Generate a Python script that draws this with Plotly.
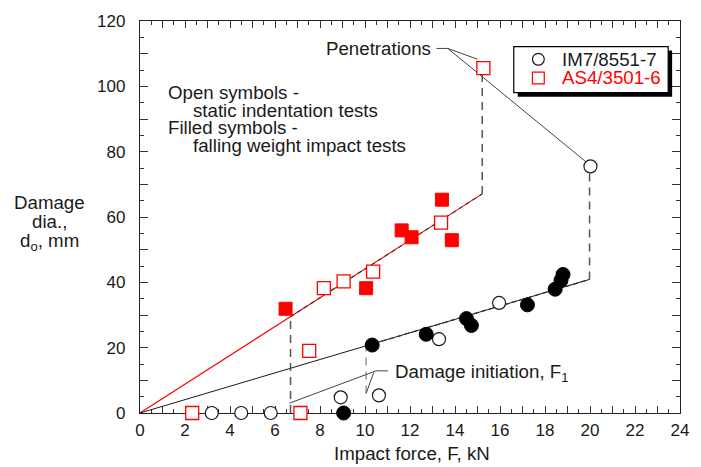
import plotly.graph_objects as go

# ---- Measured damage diameters (mm) vs. impact / indentation force (kN) ----
# IM7/8551-7
im7_static_F = [3.19, 4.50, 5.81, 8.92, 10.62, 13.29, 15.96, 20.02]
im7_static_d = [0.0, 0.0, 0.0, 4.8, 5.4, 22.6, 33.7, 75.5]
im7_impact_F = [9.05, 10.32, 12.72, 14.51, 14.73, 17.22, 18.45, 18.71, 18.80]
im7_impact_d = [0.0, 20.8, 24.1, 28.9, 26.8, 33.1, 37.9, 40.6, 42.4]

# AS4/3501-6
as4_static_F = [2.32, 7.13, 7.52, 8.17, 9.05, 10.36, 13.38, 15.26]
as4_static_d = [0.0, 0.0, 19.0, 38.2, 40.3, 43.3, 58.3, 105.6]
as4_impact_F = [6.47, 10.05, 11.63, 12.07, 13.42, 13.86]
as4_impact_d = [31.9, 38.2, 55.9, 53.8, 65.3, 52.9]

# Linear fits through the origin: slope (mm/kN) and end force (kN)
im7_slope, im7_fit_end = 2.047, 19.98
as4_slope, as4_fit_end = 4.41, 15.21

# Damage initiation force F1 and where its marker sits
im7_F1, im7_F1_d = 10.05, 6.0
as4_F1, as4_F1_d = 6.69, 3.0

# Penetration values
im7_pen_d = 75.5
as4_pen_d = 105.6

x_ticks = list(range(0, 25))
x_ticktext = [str(v) if v % 2 == 0 else "" for v in x_ticks]
y_ticks = list(range(0, 121, 10))
y_ticktext = [str(v) if v % 20 == 0 else "" for v in y_ticks]

RED = "#ff0000"
INK = "#1a1a1a"
DASH_GREY = "#555555"
FONT = "Liberation Sans, Arial, sans-serif"
TXT = 18.7

# plot-area geometry in pixels (used to place text in paper coordinates)
FIG_W, FIG_H = 701, 467
PL, PR, PT, PB = 140, 689, 14, 413


def px(x):
    return (x - PL) / (PR - PL)


def py(y):
    return (PB - y) / (PB - PT)


fig = go.Figure()


def line(xs, ys, color, width=1.0, dash="solid"):
    fig.add_trace(go.Scatter(x=xs, y=ys, mode="lines",
                             line=dict(color=color, width=width, dash=dash),
                             showlegend=False, hoverinfo="skip",
                             cliponaxis=False))


# fit lines
line([0, as4_fit_end], [0, as4_slope * as4_fit_end], RED, 1.1)
line([0, im7_fit_end], [0, im7_slope * im7_fit_end], INK, 1.0)
# dashed overlay beyond damage initiation
line([as4_F1, as4_fit_end], [as4_slope * as4_F1, as4_slope * as4_fit_end],
     "#333333", 1.1, "4px,4px")
line([im7_F1, im7_fit_end], [im7_slope * im7_F1, im7_slope * im7_fit_end],
     "#333333", 1.3, "5px,3px")

# vertical dashed connectors
VD = "8px,6px"
line([as4_F1, as4_F1], [0, as4_slope * as4_F1], DASH_GREY, 1.5, VD)
line([im7_F1, im7_F1], [im7_F1_d, im7_slope * im7_F1], "#888888", 1.3, VD)
line([as4_fit_end, as4_fit_end], [as4_slope * as4_fit_end, as4_pen_d],
     DASH_GREY, 1.5, VD)
line([im7_fit_end, im7_fit_end], [im7_slope * im7_fit_end, im7_pen_d],
     DASH_GREY, 1.5, VD)

# callout leader lines
pen_x, pen_y = 13.68, 111.6
line([12.98 + 0.2, pen_x], [pen_y, pen_y], "#444444", 1.0)
line([pen_x, 15.0], [pen_y, 108.3], "#444444", 1.0)
line([pen_x, 19.8], [pen_y, 77.0], "#444444", 1.0)

ini_x, ini_y = 10.49, 12.9
line([ini_x, 11.02], [ini_y, ini_y], "#444444", 1.0)
line([ini_x, as4_F1 - 0.05], [ini_y, as4_F1_d], "#444444", 1.0)
line([ini_x - 0.1, im7_F1], [ini_y - 0.5, im7_F1_d], "#444444", 1.0)


def markers(xs, ys, symbol, fill, edge, size, lw):
    fig.add_trace(go.Scatter(x=xs, y=ys, mode="markers",
                             marker=dict(symbol=symbol, color=fill, size=size,
                                         line=dict(color=edge, width=lw)),
                             showlegend=False, cliponaxis=False))


markers(as4_static_F, as4_static_d, "square", "white", RED, 13, 1.3)
markers(as4_impact_F, as4_impact_d, "square", RED, RED, 13, 1.0)
markers(im7_static_F, im7_static_d, "circle", "white", INK, 13, 1.2)
markers(im7_impact_F, im7_impact_d, "circle", "black", "black", 14, 1.0)

annotations = []


def text(s, x, y, anchor="left", color=INK, size=TXT):
    annotations.append(dict(text=s, x=px(x), y=py(y), xref="paper",
                            yref="paper", xanchor=anchor, yanchor="middle",
                            showarrow=False, borderpad=0,
                            font=dict(family=FONT, size=size, color=color)))


text("Penetrations", 437, 42, "right")
text("Open symbols -", 167, 87)
text("static indentation tests", 193, 105)
text("Filled symbols -", 167, 122)
text("falling weight impact tests", 193, 141)
text("Damage initiation, F<sub>1</sub>", 398, 372)

# axis titles
text("Damage", 48, 199, "center")
text("dia.,", 48, 218, "center")
text("d<sub>o</sub>, mm", 48, 239, "center")
text("Impact force, F, kN", 417, 454, "center")

# legend box
text("IM7/8551-7", 568, 53)
text("AS4/3501-6", 568, 72, color=RED)

shapes = [
    dict(type="rect", xref="paper", yref="paper", x0=px(524), x1=px(681),
         y0=py(91), y1=py(44), fillcolor="black", line=dict(width=0)),
    dict(type="rect", xref="paper", yref="paper", x0=px(520), x1=px(677),
         y0=py(87), y1=py(40), fillcolor="white",
         line=dict(color="black", width=1.2)),
    dict(type="circle", xref="paper", yref="paper", x0=px(539), x1=px(551),
         y0=py(59), y1=py(47), fillcolor="white",
         line=dict(color=INK, width=1.2)),
    dict(type="rect", xref="paper", yref="paper", x0=px(539), x1=px(551),
         y0=py(78), y1=py(66), fillcolor="white",
         line=dict(color=RED, width=1.2)),
]

axis_common = dict(
    showgrid=False, zeroline=False, showline=True, linecolor="#222222",
    linewidth=1.3, mirror="allticks", ticks="inside", tickcolor="#333333",
    tickwidth=1, layer="below traces",
    tickfont=dict(family=FONT, size=17, color=INK),
)

fig.update_layout(
    width=FIG_W, height=FIG_H, autosize=False,
    margin=dict(l=PL, r=FIG_W - PR, t=PT, b=FIG_H - PB),
    paper_bgcolor="white", plot_bgcolor="white",
    showlegend=False,
    xaxis=dict(range=[0, 24], tickmode="array", tickvals=x_ticks,
               ticktext=x_ticktext, ticklen=7, ticklabelstandoff=1,
               minor=dict(dtick=0.5, ticklen=4, ticks="inside",
                          tickcolor="#333333"),
               **axis_common),
    yaxis=dict(range=[0, 120], tickmode="array", tickvals=y_ticks,
               ticktext=y_ticktext, ticklen=8, ticklabelstandoff=10,
               minor=dict(dtick=5, ticklen=4, ticks="inside",
                          tickcolor="#333333"),
               **axis_common),
    annotations=annotations,
    shapes=shapes,
)

fig.write_html("out.html")
